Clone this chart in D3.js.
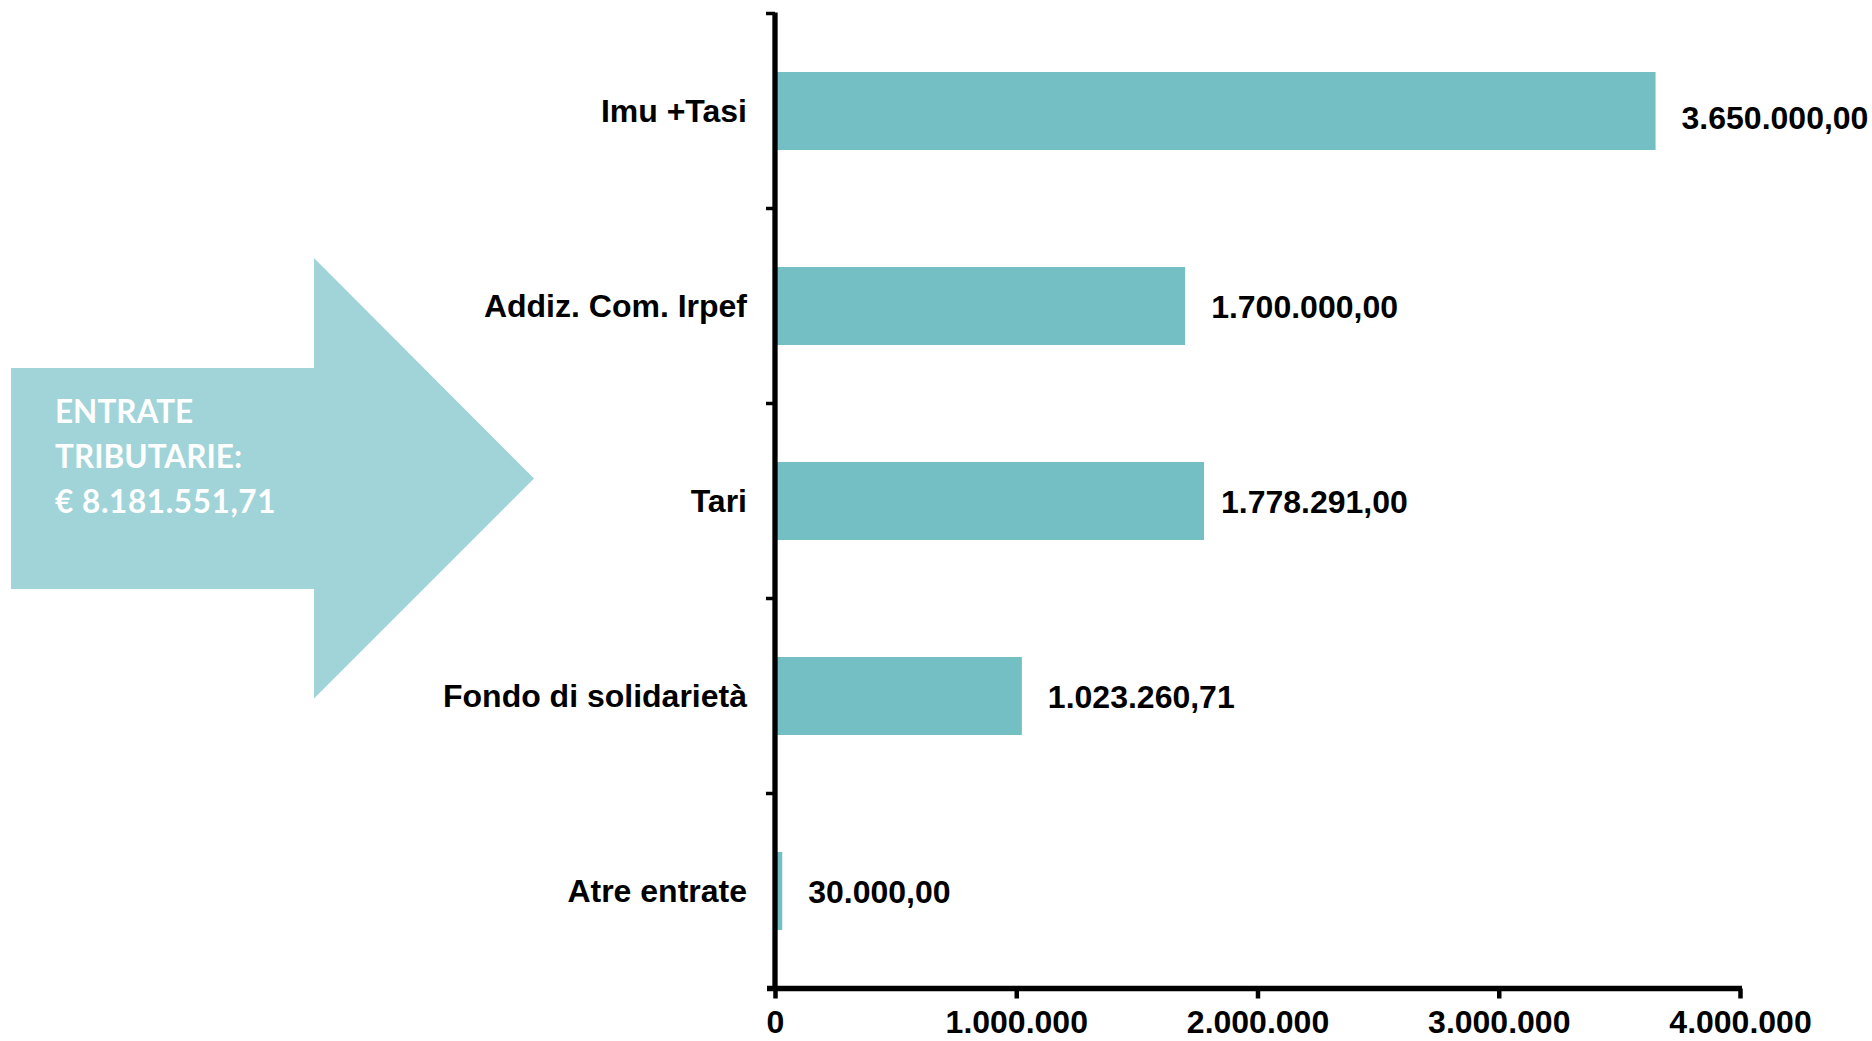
<!DOCTYPE html>
<html>
<head>
<meta charset="utf-8">
<script src="https://cdn.jsdelivr.net/npm/d3@7"></script>
<style>
  html, body { margin: 0; padding: 0; background: #ffffff; }
  svg { display: block; }
</style>
</head>
<body>
<svg id="chart" width="1872" height="1041"></svg>
<script>
// ---- data ----
const categories = ["Imu +Tasi", "Addiz. Com. Irpef", "Tari", "Fondo di solidarietà", "Atre entrate"];
const values = [3650000, 1700000, 1778291, 1023260.71, 30000];
const xTicks = [0, 1000000, 2000000, 3000000, 4000000];
const arrowLines = ["ENTRATE", "TRIBUTARIE:"];

// ---- setup ----
const svg = d3.select("#chart");
const it = d3.formatLocale({ decimal: ",", thousands: ".", grouping: [3], currency: ["€ ", ""] });
const fmtVal = it.format(",.2f");
const fmtTick = it.format(",.0f");

const barColor = "#73bfc4";
const arrowColor = "#a0d4d8";
const labelFont = "'Liberation Sans', Arial, Helvetica, sans-serif";

const x = d3.scaleLinear().domain([0, 4000000]).range([775, 1740]);
const y = d3.scaleBand().domain(categories).range([13.5, 988.5]).paddingInner(0.6).paddingOuter(0.3);

// ---- arrow shape ----
const p = d3.path();
p.moveTo(11, 368);
p.lineTo(314, 368);
p.lineTo(314, 258);
p.lineTo(534, 478.5);
p.lineTo(314, 698.5);
p.lineTo(314, 589);
p.lineTo(11, 589);
p.closePath();
svg.append("path").attr("d", p.toString()).attr("fill", arrowColor);

const total = d3.sum(values);
const arrowText = arrowLines.concat(["€ " + fmtVal(total)]);
svg.append("g").selectAll("text").data(arrowText).join("text")
  .attr("x", 55)
  .attr("y", (d, i) => 423 + i * 45)
  .attr("fill", "#ffffff")
  .attr("font-family", "Lato, 'Open Sans', sans-serif")
  .attr("font-weight", 700)
  .attr("font-size", 31.5)
  .attr("letter-spacing", (d, i) => i === 2 ? 0.6 : 0)
  .text(d => d);

// ---- bars ----
const data = categories.map((c, i) => ({ c, v: values[i], i }));
svg.append("g").selectAll("rect").data(data).join("rect")
  .attr("x", x(0))
  .attr("y", d => y(d.c))
  .attr("width", d => x(d.v) - x(0))
  .attr("height", y.bandwidth())
  .attr("fill", barColor);

// ---- value labels ----
svg.append("g").selectAll("text").data(data).join("text")
  .attr("x", d => x(d.v) + (d.i === 2 ? 17 : 26))
  .attr("y", d => y(d.c) + y.bandwidth() / 2 + 11.5 + (d.i === 0 ? 6 : 0))
  .attr("font-family", labelFont)
  .attr("font-weight", 700)
  .attr("font-size", 32)
  .attr("fill", "#000")
  .text(d => fmtVal(d.v));

// ---- category labels ----
svg.append("g").selectAll("text").data(data).join("text")
  .attr("x", 747)
  .attr("y", d => y(d.c) + y.bandwidth() / 2 + 11)
  .attr("text-anchor", "end")
  .attr("font-family", labelFont)
  .attr("font-weight", 700)
  .attr("font-size", 32)
  .attr("fill", "#000")
  .text(d => d.c);

// ---- y axis ----
const yTop = y.range()[0];
const yBot = y.range()[1];
const step = y.step();
const yAxis = svg.append("g");
yAxis.append("line")
  .attr("x1", x(0)).attr("x2", x(0))
  .attr("y1", yTop - 1).attr("y2", yBot)
  .attr("stroke", "#000").attr("stroke-width", 5.3);
yAxis.selectAll("line.tk").data(d3.range(categories.length)).join("line")
  .attr("class", "tk")
  .attr("x1", x(0) - 9).attr("x2", x(0))
  .attr("y1", i => yTop + i * step).attr("y2", i => yTop + i * step)
  .attr("stroke", "#000").attr("stroke-width", 3.5);

// ---- x axis ----
const xAxis = d3.axisBottom(x)
  .tickValues(xTicks)
  .tickSize(10)
  .tickPadding(12)
  .tickFormat(d => fmtTick(d));
const gx = svg.append("g").attr("transform", `translate(0,${yBot})`).call(xAxis);
gx.select(".domain").remove();
gx.insert("line", ":first-child")
  .attr("x1", 767).attr("x2", x(4000000) + 2)
  .attr("y1", 0).attr("y2", 0)
  .attr("stroke", "#000").attr("stroke-width", 5.5);
gx.selectAll(".tick line").attr("stroke", "#000").attr("stroke-width", 4.5);
gx.selectAll(".tick text")
  .attr("font-family", labelFont)
  .attr("font-weight", 700)
  .attr("font-size", 32)
  .attr("fill", "#000");
</script>
</body>
</html>
